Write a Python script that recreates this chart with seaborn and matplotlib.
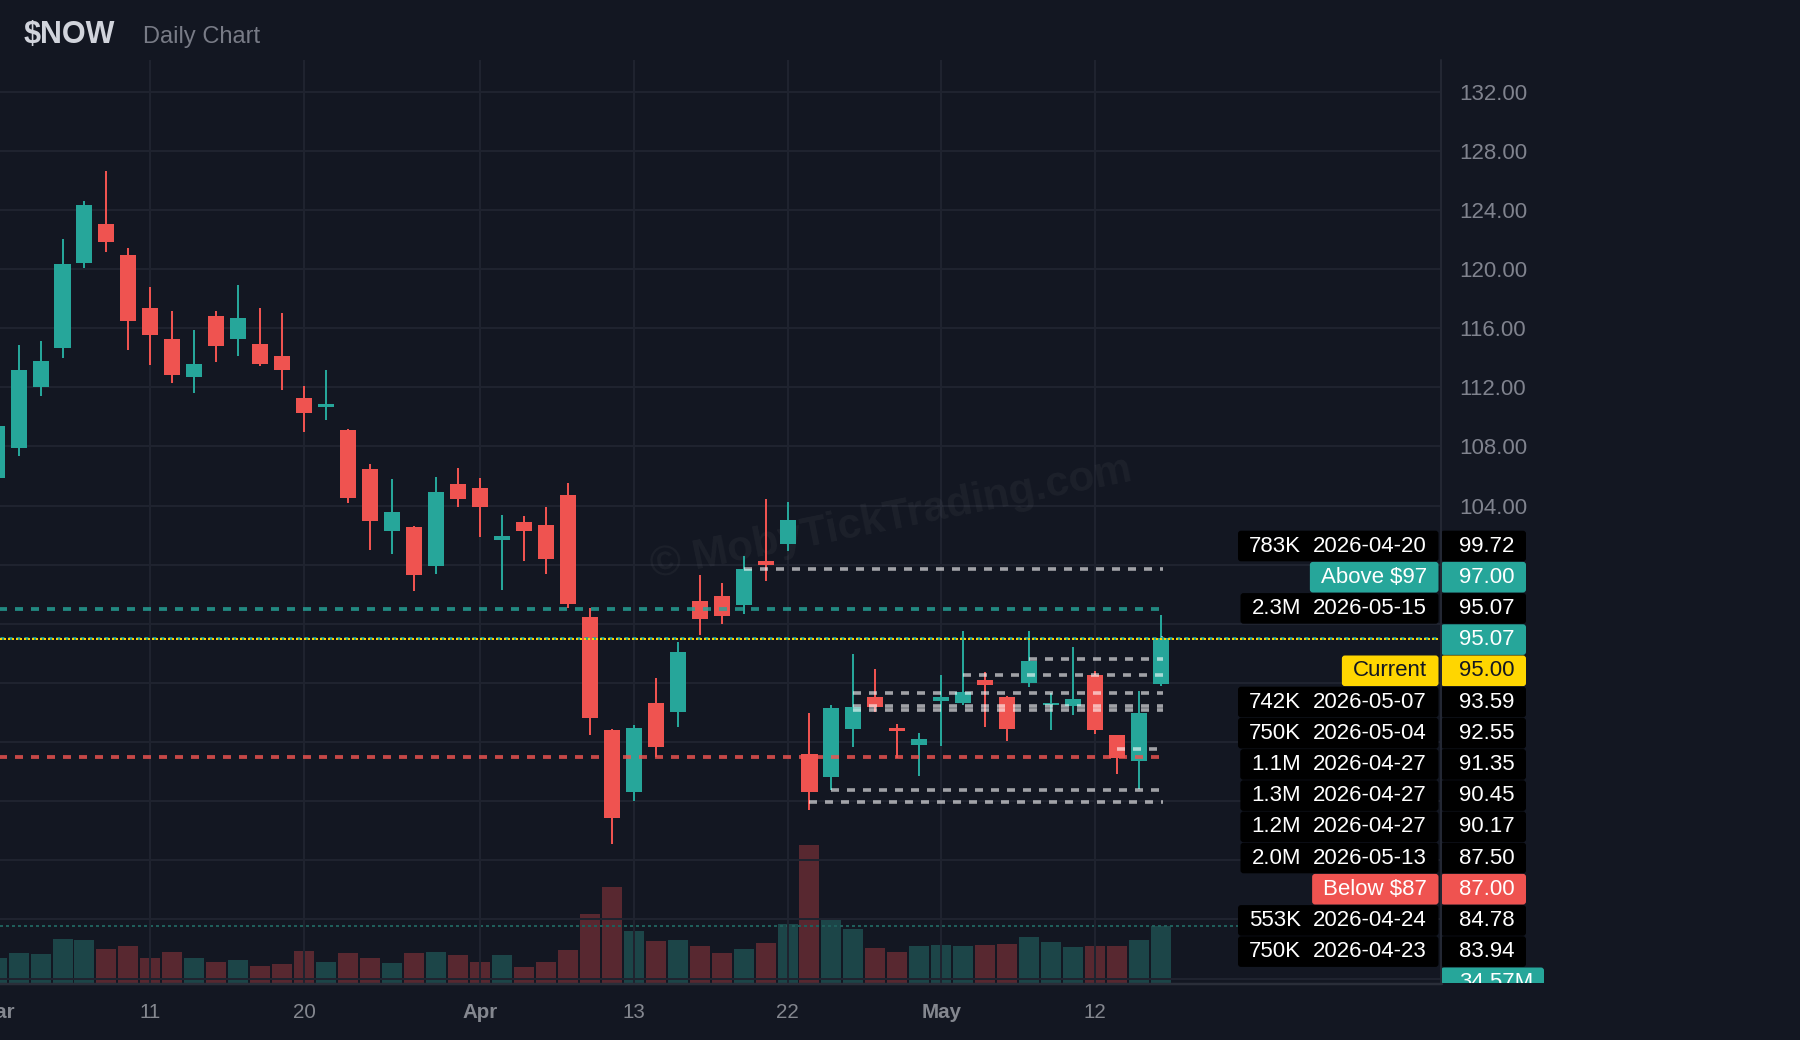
import matplotlib
matplotlib.use("Agg")
import matplotlib.pyplot as plt
from matplotlib.patches import FancyBboxPatch
from matplotlib.lines import Line2D
import numpy as np
import pandas as pd
import seaborn as sns

## daily bars
dates = ["2026-03-02", "2026-03-03", "2026-03-04", "2026-03-05", "2026-03-06",
         "2026-03-09", "2026-03-10", "2026-03-11", "2026-03-12", "2026-03-13",
         "2026-03-16", "2026-03-17", "2026-03-18", "2026-03-19", "2026-03-20",
         "2026-03-23", "2026-03-24", "2026-03-25", "2026-03-26", "2026-03-27",
         "2026-03-30", "2026-03-31", "2026-04-01", "2026-04-02",
         "2026-04-06", "2026-04-07", "2026-04-08", "2026-04-09", "2026-04-10",
         "2026-04-13", "2026-04-14", "2026-04-15", "2026-04-16", "2026-04-17",
         "2026-04-20", "2026-04-21", "2026-04-22", "2026-04-23", "2026-04-24",
         "2026-04-27", "2026-04-28", "2026-04-29", "2026-04-30", "2026-05-01",
         "2026-05-04", "2026-05-05", "2026-05-06", "2026-05-07", "2026-05-08",
         "2026-05-11", "2026-05-12", "2026-05-13", "2026-05-14", "2026-05-15"]

opens = [105.88, 107.91, 112.02, 114.66, 120.41, 123.05, 120.95, 117.36, 115.27, 112.70,
         116.82, 115.27, 114.93, 114.12, 111.28, 110.67, 109.11, 106.47, 102.28, 102.55,
         99.91, 105.46, 105.19, 101.67, 102.89, 102.68, 104.72, 96.47, 88.82, 84.62,
         90.64, 90.03, 97.54, 97.88, 97.28, 100.25, 101.40, 87.19, 85.66, 88.88,
         91.05, 88.95, 87.79, 90.77, 90.64, 92.17, 91.05, 92.00, 90.51, 90.44,
         92.53, 88.47, 86.72, 91.95]
highs = [110.00, 114.86, 115.13, 122.03, 124.60, 126.63, 121.42, 118.79, 117.16, 115.88,
         117.16, 118.92, 117.36, 117.03, 112.09, 113.17, 109.18, 106.81, 105.80, 102.62,
         105.93, 106.54, 105.86, 103.36, 103.29, 103.90, 105.53, 97.08, 88.90, 89.15,
         92.33, 94.77, 99.30, 98.76, 100.59, 104.44, 104.24, 89.96, 90.52, 93.96,
         92.94, 89.22, 88.61, 92.53, 95.51, 92.76, 91.12, 95.51, 91.32, 94.43,
         92.80, 88.47, 91.46, 96.59]
lows = [105.50, 107.37, 111.41, 113.98, 120.07, 121.15, 114.52, 113.51, 112.29, 111.61,
        113.71, 114.12, 113.44, 111.82, 108.98, 109.79, 104.17, 100.99, 100.72, 98.22,
        99.37, 103.90, 101.87, 98.28, 100.25, 99.37, 97.08, 88.48, 81.10, 84.01,
        86.98, 89.02, 95.24, 95.99, 96.67, 98.89, 100.92, 83.42, 84.78, 87.66,
        90.03, 86.94, 85.72, 87.75, 90.53, 89.05, 88.07, 91.73, 88.81, 89.83,
        88.54, 85.83, 84.80, 91.82]
closes = [109.38, 113.17, 113.78, 120.34, 124.33, 121.83, 116.49, 115.54, 112.83, 113.58,
          114.79, 116.69, 113.58, 113.17, 110.27, 110.87, 104.51, 102.95, 103.56, 99.30,
          104.92, 104.44, 103.90, 101.94, 102.28, 100.38, 97.35, 89.64, 82.86, 88.95,
          87.66, 94.09, 96.32, 96.53, 99.72, 99.98, 103.02, 84.64, 90.31, 90.37,
          90.37, 88.77, 88.20, 91.05, 91.39, 91.86, 88.88, 93.48, 90.64, 90.92,
          88.81, 86.94, 89.97, 95.07]
# volume in millions
volumes = [15.2, 18.2, 17.6, 26.7, 26.1, 20.6, 22.4, 15.2, 18.8, 15.2,
           12.7, 13.9, 10.3, 11.5, 19.4, 12.7, 18.2, 15.2, 12.1, 18.2,
           18.8, 17.0, 12.7, 17.0, 9.7, 12.7, 20.0, 41.8, 58.2, 31.5,
           25.5, 26.1, 22.4, 18.2, 20.6, 24.3, 35.8, 83.7, 38.8, 32.8,
           21.2, 18.8, 22.4, 23.0, 22.4, 23.0, 23.7, 27.9, 24.9, 21.8,
           22.4, 22.4, 26.1, 34.57]

tick_dates = ["2026-03-02", "2026-03-11", "2026-03-20", "2026-04-01",
              "2026-04-13", "2026-04-22", "2026-05-01", "2026-05-12"]
tick_labels = ["Mar", "11", "20", "Apr", "13", "22", "May", "12"]
month_labels = ["Mar", "Apr", "May"]
price_ticks = [104, 108, 112, 116, 120, 124, 128, 132]

## level lines (gray dashed) with their labels
level_prices = [99.72, 95.07, 93.59, 92.55, 91.35, 90.45, 90.17, 87.50, 84.78, 83.94]
level_vols = ["783K", "2.3M", "742K", "750K", "1.1M", "1.3M", "1.2M", "2.0M", "553K", "750K"]
level_dates = ["2026-04-20", "2026-05-15", "2026-05-07", "2026-05-04", "2026-04-27",
               "2026-04-27", "2026-04-27", "2026-05-13", "2026-04-24", "2026-04-23"]
alert_above = 97.00
alert_below = 87.00
current_price = 95.00

## colours
BG = "#131722"
UP = "#26a69a"
DOWN = "#ef5350"
VOL_UP = "#1c4548"
VOL_DOWN = "#582830"
GRID = "#1f232f"
TXT = "#80838e"
YELLOW = "#ffd600"

## pixel layout of the TradingView-like pane
W, H = 1800, 1040
PANE_TOP, PANE_BOT, PANE_RIGHT = 60, 983, 1441
BAR_PX, X0_PX = 21.97, -3.4          # px per bar, x of first bar
REF_P, REF_Y, PX_UNIT = 132, 91.7, 14.78
PT = 0.72                              # points per pixel at dpi 100

sns.set_style("dark", {"axes.facecolor": BG, "figure.facecolor": BG})
plt.rcParams["font.family"] = ["Liberation Sans", "DejaVu Sans"]
plt.rcParams["lines.scale_dashes"] = False

fig = plt.figure(figsize=(W / 100, H / 100), dpi=100)
fig.patch.set_facecolor(BG)


def fx(x):
    return x / W


def fy(y):
    return 1 - y / H


rect = [0, fy(PANE_BOT), fx(PANE_RIGHT), (PANE_BOT - PANE_TOP) / H]
ax_v = fig.add_axes(rect)
ax_v.set_facecolor(BG)
ax = ax_v.twinx()
ax.patch.set_visible(False)

idx = np.arange(len(dates))
o, h, l, c = map(np.array, (opens, highs, lows, closes))
up = c >= o

## volume bars
vol_df = pd.DataFrame({"i": idx, "vol": volumes, "dir": np.where(up, "up", "down")})
sns.barplot(data=vol_df, x="i", y="vol", hue="dir",
            palette={"up": VOL_UP, "down": VOL_DOWN},
            native_scale=True, dodge=False, width=0.91, errorbar=None,
            legend=False, saturation=1, linewidth=0, ax=ax_v)
ax_v.set_ylim(0, max(volumes) / 0.15)
ax_v.axhline(volumes[-1], color="#1f5d5a", lw=2 * PT,
             linestyle=(0, (3 * PT, 3 * PT)), zorder=3)
ax_v.set_xlabel("")
ax_v.set_ylabel("")
ax_v.set_yticks([])

## grid
for p in range(72, 133, 4):
    ax.axhline(p, color=GRID, lw=2 * PT, zorder=0.5)
tick_pos = [dates.index(d) for d in tick_dates]
for t in tick_pos:
    ax.axvline(t, color=GRID, lw=2 * PT, zorder=0.5)

## watermark
ax.text(fx(891), fy(519), "© MobyTickTrading.com", transform=fig.transFigure,
        fontsize=30.5, fontweight="bold", color="white", alpha=0.045,
        rotation=11.5, ha="center", va="center", rotation_mode="anchor", zorder=0.6)

## candles
cols = np.where(up, UP, DOWN)
ax.vlines(idx, l, h, colors=cols, lw=2 * PT, zorder=2)
body_lo = np.minimum(o, c)
body_h = np.maximum(np.abs(c - o), 0.14)
ax.bar(idx, body_h, bottom=body_lo, width=0.73, color=cols, linewidth=0, zorder=2.1)

## level lines
dash = (0, (8 * PT, 8 * PT))
for p, d in zip(level_prices, level_dates):
    ax.hlines(p, dates.index(d), idx[-1] + 0.08, colors=[(1, 1, 1, 0.6)],
              lw=3.6 * PT, linestyles=[dash], zorder=3)
ax.hlines(alert_above, 0, idx[-1] + 0.08, colors=[UP], alpha=0.8,
          lw=3.8 * PT, linestyles=[dash], zorder=3)
ax.hlines(alert_below, 0, idx[-1] + 0.08, colors=[DOWN], alpha=0.82,
          lw=3.8 * PT, linestyles=[dash], zorder=3)
ax.axhline(closes[-1], color=UP, lw=2.6 * PT, linestyle=(0, (4 * PT, 4 * PT)), zorder=3.1)
ax.axhline(current_price, color=YELLOW, lw=2 * PT, linestyle=(0, (2 * PT, 2 * PT)), zorder=3.2)

## axes limits from the pixel layout
ax.set_xlim((0 - X0_PX) / BAR_PX, (PANE_RIGHT - X0_PX) / BAR_PX)
ax.set_ylim(REF_P - (PANE_BOT - REF_Y) / PX_UNIT, REF_P + (REF_Y - PANE_TOP) / PX_UNIT)

for a in (ax, ax_v):
    for s in a.spines.values():
        s.set_visible(False)
    a.grid(False)

ax.set_yticks(price_ticks, [f"{p:.2f}" for p in price_ticks])
ax.tick_params(axis="y", length=0, pad=18.5 * PT, labelsize=16, labelcolor=TXT)
ax.set_xticks([])
ax_v.set_xticks([])

## time labels
for t, lab in zip(tick_pos, tick_labels):
    ax.text(t, -(1012 - PANE_BOT) / (PANE_BOT - PANE_TOP), lab,
            transform=ax.get_xaxis_transform(), ha="center", va="center",
            fontsize=14.8, color="#84878f",
            fontweight="bold" if lab in month_labels else "normal", clip_on=False)

## pane borders
fig.add_artist(Line2D([fx(PANE_RIGHT), fx(PANE_RIGHT)], [fy(PANE_TOP), fy(PANE_BOT + 1)],
                      transform=fig.transFigure, color="#232733", lw=2 * PT))
fig.add_artist(Line2D([0, fx(PANE_RIGHT + 1)], [fy(PANE_BOT + 1), fy(PANE_BOT + 1)],
                      transform=fig.transFigure, color="#2a2e39", lw=2.5 * PT))

## title
fig.text(fx(24), fy(42.5), "$NOW", fontsize=22, fontweight="bold",
         color="#d1d4dc", va="baseline")
fig.text(fx(143), fy(42.5), "Daily Chart", fontsize=17, color="#787b86", va="baseline")

## stacked price-scale labels
rows = [dict(price=p, kind="level", left=v, mid=d)
        for p, v, d in zip(level_prices, level_vols, level_dates)]
rows.append(dict(price=alert_above, kind="above", left=None, mid=f"Above ${alert_above:.0f}"))
rows.append(dict(price=closes[-1], kind="last", left=None, mid=None))
rows.append(dict(price=current_price, kind="current", left=None, mid="Current"))
rows.append(dict(price=alert_below, kind="below", left=None, mid=f"Below ${alert_below:.0f}"))
rows.sort(key=lambda r: -r["price"])

styles = {"level": ("#000000", "white"), "above": (UP, "white"), "last": (UP, "white"),
          "current": (YELLOW, "#131722"), "below": (DOWN, "white")}

ov = fig.add_axes([0, fy(PANE_BOT), 1, (PANE_BOT - PANE_TOP) / H])
ov.set_xlim(0, W)
ov.set_ylim(PANE_BOT, PANE_TOP)
ov.axis("off")
renderer = fig.canvas.get_renderer()

ROW0, PITCH, BOX_H = 546, 31.2, 30.6
for k, r in enumerate(rows):
    cy = ROW0 + PITCH * k
    fill, tc = styles[r["kind"]]
    texts = []
    if r["mid"]:
        texts.append(ov.text(1427, cy, r["mid"], ha="right", va="center",
                             fontsize=16, color=tc, zorder=5))
    if r["left"]:
        texts.append(ov.text(1301, cy, r["left"], ha="right", va="center",
                             fontsize=16, color=tc, zorder=5))
    if texts:
        x_left = min(t.get_window_extent(renderer).x0 for t in texts) - 11
        ov.add_patch(FancyBboxPatch((x_left, cy - BOX_H / 2), 1438.5 - x_left, BOX_H,
                                    boxstyle="round,pad=0,rounding_size=3",
                                    fc=fill, ec="none", zorder=4))
    ov.add_patch(FancyBboxPatch((1441, cy - BOX_H / 2), 85, BOX_H,
                                boxstyle="round,pad=0,rounding_size=3",
                                fc=fill, ec="none", zorder=4))
    ov.text(1459.5, cy, f"{r['price']:.2f}", ha="left", va="center",
            fontsize=16, color=tc, zorder=5)

# last volume label, cut off by the bottom of the pane
cy = ROW0 + PITCH * len(rows)
ov.add_patch(FancyBboxPatch((1441, cy - BOX_H / 2), 103, BOX_H,
                            boxstyle="round,pad=0,rounding_size=3",
                            fc=UP, ec="none", zorder=4))
ov.text(1459.5, cy, f"{volumes[-1]:.2f}M", ha="left", va="center",
        fontsize=16, color="white", zorder=5, clip_on=True)

fig.savefig("out.png", dpi=100, facecolor=BG)
